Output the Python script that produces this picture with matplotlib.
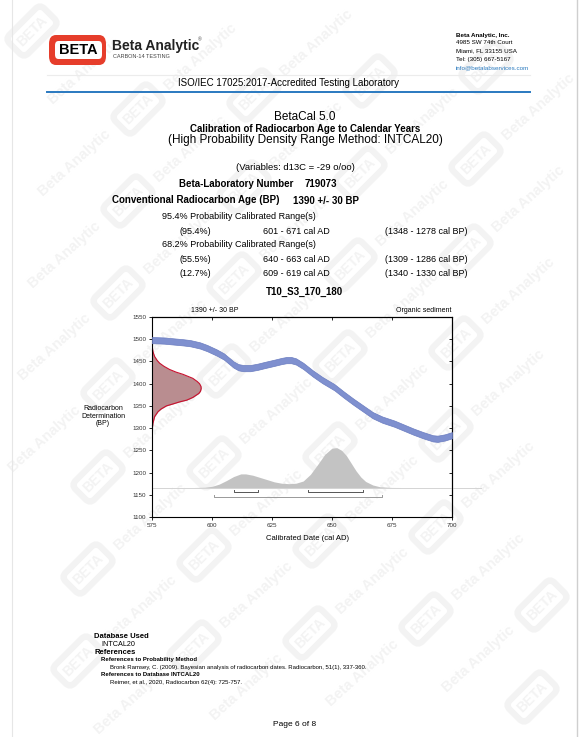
import matplotlib.pyplot as plt
from matplotlib.patches import FancyBboxPatch
from matplotlib.lines import Line2D

W, H = 579, 737

# calibration curve (cal AD vs BP)
curve_ad = [575, 580, 584, 588, 591, 595, 598, 602, 605, 607, 609, 611, 613, 616, 619, 622, 626,
            629, 631, 633, 635, 638, 642, 646, 651, 655, 659, 663, 667, 671, 676, 680, 684, 688,
            692, 694, 697, 700]
curve_bp = [1498, 1497, 1495, 1493, 1491, 1486, 1480, 1470, 1461, 1452, 1443, 1437, 1435, 1435, 1438,
            1442, 1447, 1451, 1453, 1453, 1450, 1440, 1423, 1408, 1392, 1375, 1359, 1344, 1329, 1319,
            1310, 1301, 1292, 1284, 1277, 1276, 1279, 1284]
curve_err = 7

# radiocarbon determination 1390 +/- 30 BP (BP, width in years)
rc_bp = [1491, 1480, 1472, 1461, 1452, 1446, 1439, 1432, 1426, 1421, 1412, 1405, 1400, 1394, 1389,
         1383, 1378, 1369, 1363, 1359, 1354, 1350, 1343, 1337, 1326, 1311, 1298, 1288]
rc_w = [0, 0.2, 0.4, 1.1, 2.2, 3.2, 5.0, 7.3, 10.0, 12.9, 17.0, 18.8, 19.8, 20.4, 20.5,
        20.2, 19.5, 17.0, 14.5, 11.5, 8.5, 6.0, 3.8, 2.5, 1.1, 0.4, 0.1, 0]

# calibrated probability distribution (cal AD, height in BP units above baseline)
cal_ad = [590, 597, 600, 603, 606, 609, 612, 614, 617, 620, 623, 626, 629, 632, 635, 638, 641,
          644, 647, 650, 652, 654, 656, 658, 660, 662, 664, 667, 670, 675, 690]
cal_h = [0, 1, 3, 8, 16, 25, 31, 31, 28, 23, 18, 13, 10, 9, 10, 15, 30,
         52, 75, 89, 90, 84, 72, 55, 38, 24, 14, 6, 2, 0.5, 0]
cal_base = 1166

# ranges
range68 = [(609, 619), (640, 663)]
range95 = [(601, 671)]

fig = plt.figure(figsize=(W / 100, H / 100), dpi=100)
plt.rcParams['font.family'] = ['Liberation Sans', 'DejaVu Sans']


def px(x, y):
    return x / W, 1 - y / H


def t(x, y, s, **kw):
    kw.setdefault('va', 'center')
    kw.setdefault('fontsize', 7)
    fig.text(*px(x, y), s, **kw)


# faint watermark tiles (only those fully on the page)
wm = '#f3f3f3'
for i in range(-4, 7):
    for j in range(-1, 10):
        x = 310 + 116 * i - 10 * (j - 7)
        y = 633 - 14 * i + 92 * (j - 7)
        if 30 < x < W - 30 and 30 < y < H - 30:
            fig.text(*px(x, y), 'BETA', rotation=45, ha='center', va='center', fontsize=10,
                     fontweight='bold', color=wm, zorder=-5,
                     bbox=dict(boxstyle='round,pad=0.45', fc='none', ec=wm, lw=4.5))
        tx, ty = x + 52, y + 40
        if 35 < tx < W - 35 and 35 < ty < H - 35:
            fig.text(*px(tx, ty), 'Beta Analytic', rotation=42, ha='center', va='center',
                     fontsize=10.5, fontweight='bold', color=wm, zorder=-5)

# page edges
fig.add_artist(Line2D([577 / W, 577 / W], [0, 1], color='#cfcfcf', lw=1))
fig.add_artist(Line2D([12 / W, 12 / W], [0, 1], color='#e6e6e6', lw=0.8))

# logo
fig.add_artist(FancyBboxPatch(px(49, 65), 57 / W, 30 / H, boxstyle='round,pad=0,rounding_size=0.012',
                              transform=fig.transFigure, fc='#e63d2b', ec='none'))
fig.add_artist(FancyBboxPatch(px(55, 59), 47 / W, 18 / H, boxstyle='round,pad=0,rounding_size=0.006',
                              transform=fig.transFigure, fc='white', ec='none'))
t(78.5, 50.5, 'BETA', ha='center', fontsize=10.5, fontweight='bold', color='black')
t(112, 46, 'Beta Analytic', fontsize=10, fontweight='bold', color='#222222')
t(198, 40, '®', fontsize=3.5, color='#444444')
t(113, 57, 'CARBON-14 TESTING', fontsize=4, color='#444444')

# address
t(456, 35, 'Beta Analytic, Inc.', fontsize=4.5, fontweight='bold')
t(456, 43, '4985 SW 74th Court', fontsize=4.5)
t(456, 51, 'Miami, FL 33155 USA', fontsize=4.5)
t(456, 59, 'Tel: (305) 667-5167', fontsize=4.5)
t(456, 67.5, 'info@betalabservices.com', fontsize=4.5, color='#2a7abf')

fig.add_artist(Line2D([47 / W, 530 / W], [1 - 75 / H] * 2, color='#ececec', lw=0.8))
t(288, 83, 'ISO/IEC 17025:2017-Accredited Testing Laboratory', ha='center', fontsize=7)
fig.add_artist(Line2D([47 / W, 530 / W], [1 - 91.5 / H] * 2, color='#2a79c0', lw=1.4))

# title block
t(305, 117, 'BetaCal 5.0', ha='center', fontsize=8.5)
t(305, 129, 'Calibration of Radiocarbon Age to Calendar Years', ha='center', fontsize=7, fontweight='bold')
t(305, 140, '(High Probability Density Range Method: INTCAL20)', ha='center', fontsize=8.5)

t(295, 168, '(Variables: d13C = -29 o/oo)', ha='center', fontsize=6.8)
t(293, 184, 'Beta-Laboratory Number', ha='right', fontsize=7, fontweight='bold')
t(305, 184, '719073', fontsize=7, fontweight='bold')
t(280, 200, 'Conventional Radiocarbon Age (BP)', ha='right', fontsize=7, fontweight='bold')
t(293, 201.5, '1390 +/- 30 BP', fontsize=7, fontweight='bold')

t(162, 216.5, '95.4% Probability Calibrated Range(s)', fontsize=6.5)
t(180, 231, '(95.4%)', fontsize=6.5)
t(263, 231, '601 - 671 cal AD', fontsize=6.5)
t(385, 231, '(1348 - 1278 cal BP)', fontsize=6.5)
t(162, 245, '68.2% Probability Calibrated Range(s)', fontsize=6.5)
t(180, 260, '(55.5%)', fontsize=6.5)
t(263, 260, '640 - 663 cal AD', fontsize=6.5)
t(385, 260, '(1309 - 1286 cal BP)', fontsize=6.5)
t(180, 273.5, '(12.7%)', fontsize=6.5)
t(263, 273.5, '609 - 619 cal AD', fontsize=6.5)
t(385, 273.5, '(1340 - 1330 cal BP)', fontsize=6.5)

t(304, 292, 'T10_S3_170_180', ha='center', fontsize=7, fontweight='bold')
t(215, 310, '1390 +/- 30 BP', ha='center', fontsize=5)
t(452, 310, 'Organic sediment', ha='right', fontsize=5)

# chart
l, b = px(152, 517)
ax = fig.add_axes([l, b, 300 / W, 200 / H])
ax.set_facecolor('none')
ax.set_xlim(575, 700)
ax.set_ylim(1100, 1550)

lo = [v - curve_err for v in curve_bp]
hi = [v + curve_err for v in curve_bp]
ax.fill_between(curve_ad, lo, hi, color='#7f90cf', ec='#6a7cc0', lw=0.5, zorder=3)

x0 = 575
ax.fill_betweenx(rc_bp, x0, [x0 + w for w in rc_w], color='#b98d90', lw=0, zorder=2)
ax.plot([x0 + w for w in rc_w], rc_bp, color='#c8102e', lw=0.8, zorder=2)

ax.fill_between(cal_ad, cal_base, [cal_base + h for h in cal_h], color='#c3c3c3', lw=0, zorder=2)
ax.plot([575, 712], [cal_base, cal_base], color='#d4d4d4', lw=0.7, clip_on=False, zorder=2)

for a, c in range68:
    ax.plot([a, a, c, c], [1160, 1156, 1156, 1160], color='#555555', lw=0.7)
for a, c in range95:
    ax.plot([a, a, c, c], [1149, 1145, 1145, 1149], color='#999999', lw=0.7)

ax.set_xticks([575, 600, 625, 650, 675, 700])
ax.set_yticks(range(1100, 1551, 50))
ax.tick_params(axis='both', labelsize=4.5, length=2.5, width=0.6, labelcolor='#333333', pad=1.5)
ax.tick_params(axis='y', direction='out')
ax.tick_params(axis='x', direction='out')
sec = ax.secondary_yaxis('right')
sec.set_yticks(range(1100, 1551, 50))
sec.tick_params(direction='in', length=2.5, width=0.6, labelright=False)
sec2 = ax.secondary_xaxis('top')
sec2.set_xticks([600, 625, 650, 675])
sec2.tick_params(direction='in', length=2.5, width=0.6, labeltop=False)
for sp in list(ax.spines.values()) + [sec.spines['right'], sec2.spines['top']]:
    sp.set_linewidth(0.8)

t(103, 416, 'Radiocarbon\nDetermination\n(BP)', ha='center', fontsize=5, linespacing=1.1)
t(307, 538, 'Calibrated Date (cal AD)', ha='center', fontsize=5.5)

# references
t(94, 637, 'Database Used', fontsize=5.5, fontweight='bold')
t(101, 645, 'INTCAL20', fontsize=5.2)
t(94, 652.5, 'References', fontsize=5.5, fontweight='bold')
t(101, 660, 'References to Probability Method', fontsize=4.3, fontweight='bold')
t(110, 667.5, 'Bronk Ramsey, C. (2009). Bayesian analysis of radiocarbon dates. Radiocarbon, 51(1), 337-360.',
  fontsize=4.3)
t(101, 675, 'References to Database INTCAL20', fontsize=4.3, fontweight='bold')
t(110, 682.5, 'Reimer, et al., 2020, Radiocarbon 62(4): 725-757.', fontsize=4.3)

t(295, 724, 'Page 6 of 8', ha='center', fontsize=6)

fig.savefig('out.png', dpi=100)
